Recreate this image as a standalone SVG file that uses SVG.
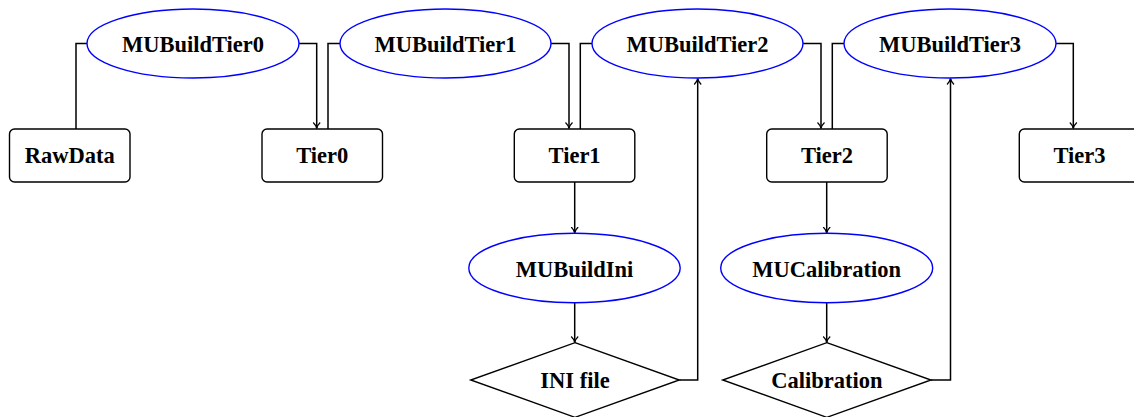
<svg xmlns="http://www.w3.org/2000/svg" width="1134" height="417" viewBox="0 0 1134 417">
<style>
.box{fill:#fff;stroke:#000;stroke-width:1.4}
.ell{fill:#fff;stroke:#0000ff;stroke-width:1.4}
.dia{fill:#fff;stroke:#000;stroke-width:1.4}
.t{font-family:"Liberation Serif","Times New Roman",serif;font-weight:bold;font-size:22.5px;text-anchor:middle;fill:#000}
.c{fill:none;stroke:#000;stroke-width:1.5}
.a{fill:none;stroke:#000;stroke-width:1.5;marker-end:url(#arr)}
</style>
<defs>
<marker id="arr" markerWidth="10" markerHeight="10" refX="6" refY="5" orient="auto" markerUnits="userSpaceOnUse" viewBox="0 0 10 10">
<path d="M0.5,1.5 Q3,4.2 6.5,5 Q3,5.8 0.5,8.5" fill="none" stroke="#000" stroke-width="1.2"/>
</marker>
</defs>
<g id="connectors">
<path class="c" d="M87,43.5 H76 V129"/>
<path class="a" d="M299,43.5 H316.7 V128"/>
<path class="c" d="M328,129 V43.5 H340"/>
<path class="a" d="M551,43.5 H569 V128"/>
<path class="c" d="M580.3,129 V43.5 H592"/>
<path class="a" d="M803,43.5 H821 V128"/>
<path class="c" d="M832.3,129 V43.5 H844"/>
<path class="a" d="M1056,43.5 H1073.3 V128"/>
<path class="a" d="M574.7,182 V232.5"/>
<path class="a" d="M574.7,302.7 V342"/>
<path class="a" d="M679.3,380 H697.7 V79"/>
<path class="a" d="M826.7,182 V232.5"/>
<path class="a" d="M826.7,302.7 V342"/>
<path class="a" d="M931,380 H950.5 V79"/>
</g>
<g id="MUBuildTier0"><ellipse class="ell" cx="193" cy="43.5" rx="106" ry="34.5"/><text class="t" x="193" y="52.3">MUBuildTier0</text></g>
<g id="MUBuildTier1"><ellipse class="ell" cx="445.5" cy="43.5" rx="105.5" ry="34.5"/><text class="t" x="445.5" y="52.3">MUBuildTier1</text></g>
<g id="MUBuildTier2"><ellipse class="ell" cx="697.5" cy="43.5" rx="105.5" ry="34.5"/><text class="t" x="697.5" y="52.3">MUBuildTier2</text></g>
<g id="MUBuildTier3"><ellipse class="ell" cx="950" cy="43.5" rx="106" ry="34.5"/><text class="t" x="950" y="52.3">MUBuildTier3</text></g>
<g id="RawData"><rect class="box" x="9.5" y="129" width="120.5" height="53" rx="5"/><text class="t" x="69.8" y="163.3">RawData</text></g>
<g id="Tier0"><rect class="box" x="262" y="129" width="120.5" height="53" rx="5"/><text class="t" x="322.2" y="163.3">Tier0</text></g>
<g id="Tier1"><rect class="box" x="514.3" y="129" width="120.5" height="53" rx="5"/><text class="t" x="574.6" y="163.3">Tier1</text></g>
<g id="Tier2"><rect class="box" x="766.7" y="129" width="120.5" height="53" rx="5"/><text class="t" x="827" y="163.3">Tier2</text></g>
<g id="Tier3"><rect class="box" x="1019.3" y="129" width="120.5" height="53" rx="5"/><text class="t" x="1079.5" y="163.3">Tier3</text></g>
<g id="MUBuildIni"><ellipse class="ell" cx="574.5" cy="268" rx="105.7" ry="34.7"/><text class="t" x="574.5" y="276.7">MUBuildIni</text></g>
<g id="MUCalibration"><ellipse class="ell" cx="826.7" cy="268" rx="106" ry="34.7"/><text class="t" x="826.7" y="276.7">MUCalibration</text></g>
<g id="INIfile"><polygon class="dia" points="575,342.7 679.3,380 575,417.3 470.7,380"/><text class="t" x="575" y="388.3">INI file</text></g>
<g id="Calibration"><polygon class="dia" points="826.8,342.7 931,380 826.8,417.3 722.7,380"/><text class="t" x="826.8" y="388.3">Calibration</text></g>
</svg>
